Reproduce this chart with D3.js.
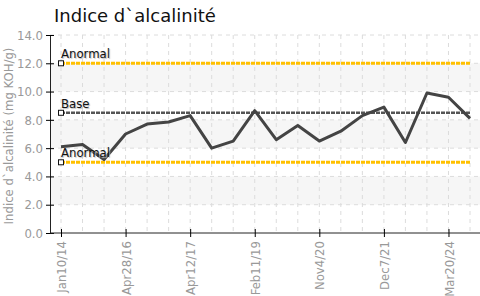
<!DOCTYPE html>
<html>
<head>
<meta charset="utf-8">
<script src="https://cdn.jsdelivr.net/npm/d3@7"></script>
<style>
  body { margin: 0; background: #fff; }
  svg { display: block; }
  .narrow, .tick text { font-family: "Liberation Sans Narrow", "Arial Narrow", "DejaVu Sans Condensed", Roboto, sans-serif; }
</style>
</head>
<body>
<svg id="chart"></svg>
<script>
const values = [6.1, 6.25, 5.2, 7.0, 7.7, 7.85, 8.3, 6.0, 6.5, 8.65, 6.6, 7.6, 6.5, 7.2, 8.3, 8.9, 6.4, 9.9, 9.6, 8.1]
const tickIndex = [0, 3, 6, 9, 12, 15, 18]
const tickLabels = ['Jan10/14', 'Apr28/16', 'Apr12/17', 'Feb11/19', 'Nov4/20', 'Dec7/21', 'Mar20/24']
const refNames = ['Anormal', 'Base', 'Anormal']
const refValues = [12, 8.5, 5]
const refColors = ['#ffc000', '#555555', '#ffc000']
const yTicks = [0, 2, 4, 6, 8, 10, 12, 14]

const width = 480
const height = 296
const margin = { top: 35, right: 0, bottom: 63, left: 50 }

const svg = d3.select('#chart').attr('width', width).attr('height', height)

const x = d3.scaleLinear().domain([0, values.length - 1]).range([61, 470])
const y = d3.scaleLinear().domain([0, 14]).range([height - margin.bottom, margin.top])

// alternating bands
for (let i = 0; i < yTicks.length - 1; i++) {
  if (i % 2 === 1) {
    svg.append('rect')
      .attr('x', margin.left)
      .attr('y', y(yTicks[i + 1]))
      .attr('width', width - margin.left)
      .attr('height', y(yTicks[i]) - y(yTicks[i + 1]))
      .attr('fill', '#f6f6f6')
  }
}

// grid
svg.append('g')
  .selectAll('line')
  .data(yTicks.slice(1))
  .join('line')
  .attr('x1', margin.left)
  .attr('x2', width)
  .attr('y1', d => y(d))
  .attr('y2', d => y(d))
  .attr('stroke', '#dcdcdc')
  .attr('stroke-dasharray', '4,4')

svg.append('g')
  .selectAll('line')
  .data(values.map((d, i) => i))
  .join('line')
  .attr('x1', d => x(d))
  .attr('x2', d => x(d))
  .attr('y1', y(14))
  .attr('y2', y(0))
  .attr('stroke', '#dcdcdc')
  .attr('stroke-dasharray', '4,4')

// reference lines
refValues.forEach((v, i) => {
  svg.append('line')
    .attr('x1', x(0))
    .attr('x2', x(values.length - 1))
    .attr('y1', y(v))
    .attr('y2', y(v))
    .attr('stroke', refColors[i])
    .attr('stroke-width', i === 1 ? 2.5 : 3)
    .attr('stroke-dasharray', '4,1')
})

// data line
const line = d3.line()
  .x((d, i) => x(i))
  .y(d => y(d))

svg.append('path')
  .datum(values)
  .attr('d', line)
  .attr('fill', 'none')
  .attr('stroke', '#444')
  .attr('stroke-width', 3)
  .attr('stroke-linejoin', 'round')

// ref markers + labels
refValues.forEach((v, i) => {
  svg.append('rect')
    .attr('x', x(0) - 2.5)
    .attr('y', y(v) - 2.5)
    .attr('width', 5)
    .attr('height', 5)
    .attr('fill', '#fff')
    .attr('stroke', '#111')
    .attr('stroke-width', 1)
  svg.append('text')
    .attr('class', 'narrow')
    .attr('x', x(0))
    .attr('y', y(v) - 5)
    .attr('font-size', 13)
    .attr('fill', '#111')
    .attr('style', 'text-shadow: 1px 1px 1px #bbb')
    .text(refNames[i])
})

// y axis
const yAxis = svg.append('g')
  .attr('transform', `translate(${margin.left},0)`)
  .call(d3.axisLeft(y).tickValues(yTicks).tickFormat(d3.format('.1f')).tickSize(4).tickPadding(3))
yAxis.selectAll('.tick line').attr('x1', 4).attr('x2', -4)
yAxis.select('.domain').attr('stroke', '#222')
yAxis.selectAll('.tick text').attr('fill', '#999').attr('font-size', 13)

// x axis
const xAxis = svg.append('g')
  .attr('transform', `translate(0,${y(0)})`)
  .call(d3.axisBottom(x).tickValues(tickIndex).tickFormat((d, i) => tickLabels[i]).tickSize(4).tickSizeOuter(0))
xAxis.select('.domain').attr('d', `M${margin.left},0H${width}`).attr('stroke', '#222')
xAxis.selectAll('.tick line').attr('y1', -4).attr('y2', 4)
xAxis.selectAll('.tick text')
  .attr('fill', '#999')
  .attr('font-size', 13)
  .attr('transform', 'rotate(-90)')
  .attr('text-anchor', 'end')
  .attr('x', -8)
  .attr('y', 0)
  .attr('dy', '0.35em')

// y title
svg.append('text')
  .attr('class', 'narrow')
  .attr('transform', `translate(13,${y(7) + 2}) rotate(-90)`)
  .attr('text-anchor', 'middle')
  .attr('font-size', 13)
  .attr('fill', '#999')
  .text('Indice d`alcalinité (mg KOH/g)')

// title
svg.append('text')
  .attr('x', 54)
  .attr('y', 22)
  .attr('font-family', 'DejaVu Sans, sans-serif')
  .attr('font-size', 18)
  .attr('fill', '#111')
  .text('Indice d`alcalinité')
</script>
</body>
</html>
